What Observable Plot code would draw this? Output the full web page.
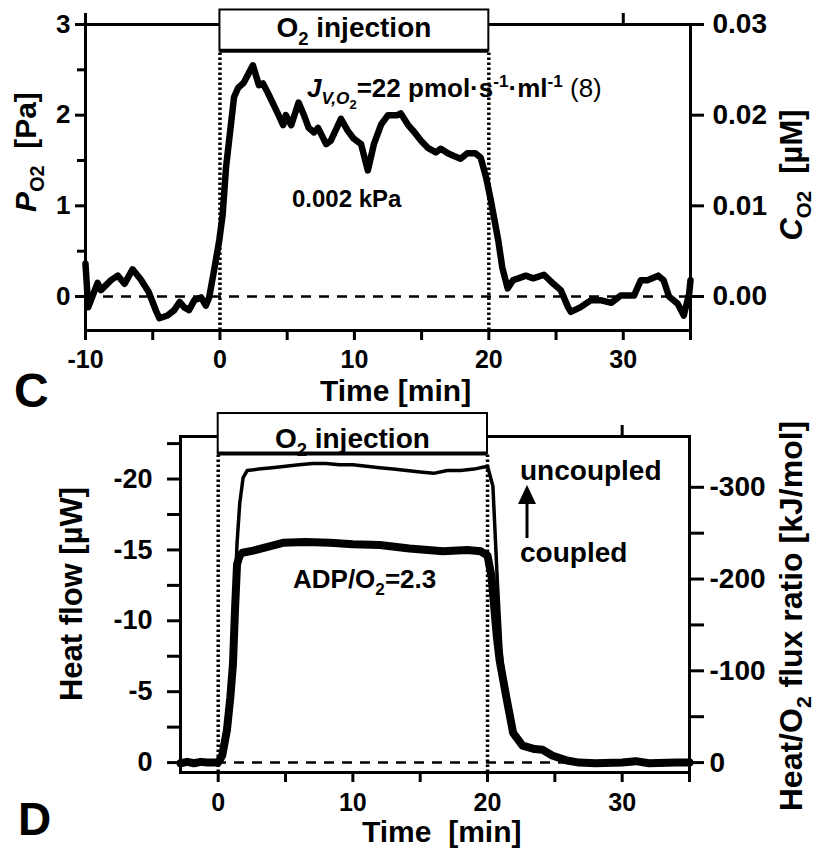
<!DOCTYPE html>
<html><head><meta charset="utf-8">
<script src="https://cdn.jsdelivr.net/npm/d3@7"></script>
<script src="https://cdn.jsdelivr.net/npm/@observablehq/plot@0.6"></script>
<style>
html,body{margin:0;padding:0;background:#fff;}
#wrap{position:relative;width:815px;height:854px;overflow:hidden;}
#wrap svg{position:absolute;left:0;overflow:visible;}
</style></head><body><div id="wrap"></div>
<script>
const FONT = "'Liberation Sans', Arial, Helvetica, sans-serif";
const W = 815;

// ---------- Panel C data: O2 partial pressure ----------
const timeC = [-10, -9.8, -9.1, -8.85, -8.1, -7.6, -7.1, -6.5, -5.9, -5.3, -4.75, -4.5, -3.9, -3.4, -3.0, -2.65, -2.3, -1.9, -1.4, -1.05, -0.8, -0.4, -0.05, 0.2, 0.45, 1.05, 1.35, 1.78, 2.45, 2.9, 3.2, 3.55, 4.3, 4.7, 4.9, 5.3, 5.85, 6.25, 6.6, 7.0, 7.3, 7.9, 8.25, 9.0, 9.5, 9.95, 10.5, 11.0, 11.45, 12.0, 12.5, 13.2, 13.45, 14.0, 14.42, 14.94, 15.46, 16.06, 16.43, 16.95, 17.4, 17.9, 18.4, 19.0, 19.4, 19.8, 20.15, 20.7, 21.0, 21.4, 21.8, 22.2, 22.75, 23.3, 24.1, 24.8, 25.35, 25.9, 26.1, 26.8, 27.6, 28.3, 29.1, 29.8, 30.8, 31.3, 31.8, 32.6, 33.0, 33.4, 34.05, 34.5, 34.9, 35.0];
const po2C = [0.36, -0.12, 0.15, 0.07, 0.18, 0.23, 0.14, 0.30, 0.19, 0.05, -0.16, -0.24, -0.21, -0.15, -0.06, -0.12, -0.15, -0.04, -0.01, -0.10, -0.01, 0.32, 0.62, 0.90, 1.42, 2.20, 2.30, 2.36, 2.55, 2.33, 2.35, 2.25, 2.02, 1.89, 2.00, 1.89, 2.14, 2.00, 1.86, 1.81, 1.86, 1.68, 1.72, 1.96, 1.83, 1.74, 1.68, 1.39, 1.68, 1.90, 2.00, 2.00, 2.02, 1.89, 1.82, 1.72, 1.64, 1.59, 1.63, 1.58, 1.55, 1.52, 1.58, 1.58, 1.53, 1.31, 1.06, 0.62, 0.32, 0.09, 0.18, 0.20, 0.23, 0.20, 0.24, 0.14, 0.07, -0.12, -0.17, -0.12, -0.04, -0.04, -0.07, 0.01, 0.01, 0.18, 0.18, 0.23, 0.18, 0.00, -0.08, -0.21, 0.03, 0.18];
const po2Ticks = [0, 1, 2, 3];
const po2Minor = [0.5, 1.5, 2.5];
const timeTicksC = [-10, 0, 10, 20, 30];
const timeMinorC = [-5, 5, 15, 25, 35];
const topTicksC = [-10, 10, 30];
const uMPerPa = 0.01;          // C_O2 [µM] per P_O2 [Pa]

// ---------- Panel D data: heat flow ----------
const timeCoupled = [-2.8, -2.3, -1.8, -1.3, -0.8, -0.3, 0, 0.3, 0.65, 0.9, 1.1, 1.25, 1.4, 1.6, 1.8, 2.6, 3.6, 4.8, 6.5, 8.3, 10, 12, 14.2, 16.7, 18.5, 19.5, 20.0, 20.3, 20.7, 20.9, 21.4, 21.9, 22.6, 23.5, 24.1, 24.8, 25.9, 26.8, 28, 30, 31, 32, 34, 35];
const heatCoupled = [0.05, -0.05, 0.05, -0.05, 0.0, 0.0, 0.0, -0.5, -2.3, -4.6, -7.0, -10.8, -14.0, -14.6, -14.8, -14.95, -15.2, -15.5, -15.55, -15.5, -15.4, -15.35, -15.1, -14.9, -15.0, -14.9, -14.6, -13.1, -8.8, -7.2, -4.6, -2.1, -1.2, -0.95, -0.9, -0.5, -0.15, 0.0, 0.05, 0.0, -0.1, 0.05, 0.0, 0.0];
const timeUncoupled = [-2.8, -1, 0, 0.3, 0.65, 0.9, 1.1, 1.25, 1.4, 1.6, 1.85, 2.15, 3, 4, 5, 6, 7, 8, 9, 10, 11, 12, 13, 14, 15, 16, 17, 18, 19, 20, 20.4, 20.75, 21.0, 21.3, 21.7, 22.2, 23, 24, 25, 26, 27, 35];
const heatUncoupled = [0, 0, 0, -0.5, -2.5, -5, -8, -12, -15.5, -18.3, -20.1, -20.6, -20.7, -20.8, -20.9, -21.0, -21.1, -21.1, -21.0, -21.0, -20.9, -20.8, -20.7, -20.6, -20.5, -20.4, -20.6, -20.6, -20.7, -20.9, -19.5, -12.4, -8.0, -5.0, -2.6, -1.5, -1.0, -0.8, -0.4, -0.1, 0, 0];
const heatTicks = [-20, -15, -10, -5, 0];
const heatMinor = [-22.5, -17.5, -12.5, -7.5, -2.5];
const ratioTicks = [0, -100, -200, -300];
const ratioMinor = [-50, -150, -250];
const kJPerUW = 15.45;         // Heat/O2 flux ratio [kJ/mol] per heat flow [µW]
const timeTicksD = [0, 10, 20, 30];
const timeMinorD = [5, 15, 25, 35];
const topTicksD = [10, 30];

const injection = [{start: 0, end: 20}];

const ax = (fn, o) => fn({label: null, strokeWidth: 3, fontWeight: "bold", ...o});
const baseStyle = {fontFamily: FONT, fontWeight: "bold", background: "none", overflow: "visible", color: "black"};

// ---------- Panel C ----------
const plotC = Plot.plot({
  width: W, height: 420,
  marginLeft: 85, marginRight: 125, marginTop: 24, marginBottom: 90,
  style: baseStyle,
  x: {domain: [-10, 35]},
  y: {domain: [-0.375, 3]},
  marks: [
    Plot.ruleY([0], {x1: -10, x2: 35, stroke: "black", strokeWidth: 2.5, strokeDasharray: "10,8"}),
    Plot.ruleX([0, 20], {y1: -0.375, y2: 2.71, stroke: "black", strokeWidth: 3.5, strokeDasharray: "2.5,2.5"}),
    Plot.line(po2C, {x: timeC, y: po2C, stroke: "black", strokeWidth: 6.5, strokeLinejoin: "round", strokeLinecap: "round"}),
    Plot.frame({stroke: "black", strokeWidth: 3}),
    ax(Plot.axisY, {anchor: "left", ticks: po2Ticks, tickSize: 10, tickPadding: 5, fontSize: 26, tickFormat: d => String(d)}),
    ax(Plot.axisY, {anchor: "left", ticks: po2Minor, tickSize: 8, tickFormat: () => ""}),
    ax(Plot.axisY, {anchor: "right", ticks: po2Ticks, tickSize: 13, tickPadding: 9, fontSize: 28, tickFormat: d => (d * uMPerPa).toFixed(2)}),
    ax(Plot.axisX, {anchor: "bottom", ticks: timeTicksC, tickSize: 10, tickPadding: 10, fontSize: 25, tickFormat: d => String(d)}),
    ax(Plot.axisX, {anchor: "bottom", ticks: timeMinorC, tickSize: 10, tickFormat: () => ""}),
    ax(Plot.axisX, {anchor: "top", ticks: topTicksC, tickSize: 12, tickFormat: () => ""}),
    Plot.rect(injection, {x1: "start", x2: "end", y1: 2.71, y2: 3.16, fill: "white", stroke: "black", strokeWidth: 2}),
    Plot.ruleY([2.71], {x1: 0, x2: 20, stroke: "black", strokeWidth: 4})
  ]
});

// ---------- Panel D ----------
const plotD = Plot.plot({
  width: W, height: 454,
  marginLeft: 180, marginRight: 126, marginTop: 36, marginBottom: 82,
  style: baseStyle,
  x: {domain: [-2.8, 35]},
  y: {domain: [0.7, -23]},
  marks: [
    Plot.ruleY([0], {x1: -2.8, x2: 35, stroke: "black", strokeWidth: 2.5, strokeDasharray: "10,8"}),
    Plot.ruleX([0, 20], {y1: 0.7, y2: -21.8, stroke: "black", strokeWidth: 3.5, strokeDasharray: "2.5,2.5"}),
    Plot.line(heatUncoupled, {x: timeUncoupled, y: heatUncoupled, stroke: "black", strokeWidth: 3.5, strokeLinejoin: "round"}),
    Plot.line(heatCoupled, {x: timeCoupled, y: heatCoupled, stroke: "black", strokeWidth: 8, strokeLinejoin: "round", strokeLinecap: "round"}),
    Plot.frame({stroke: "black", strokeWidth: 3}),
    ax(Plot.axisY, {anchor: "left", ticks: heatTicks, tickSize: 13, tickPadding: 15, fontSize: 27, tickFormat: d => String(d)}),
    ax(Plot.axisY, {anchor: "left", ticks: heatMinor, tickSize: 13, tickFormat: () => ""}),
    ax(Plot.axisY, {anchor: "right", ticks: ratioTicks.map(v => v / kJPerUW), tickSize: 14, tickPadding: 6, fontSize: 28, tickFormat: d => String(Math.round(d * kJPerUW / 100) * 100)}),
    ax(Plot.axisY, {anchor: "right", ticks: ratioMinor.map(v => v / kJPerUW), tickSize: 14, tickFormat: () => ""}),
    ax(Plot.axisX, {anchor: "bottom", ticks: timeTicksD, tickSize: 10, tickPadding: 11, fontSize: 25, tickFormat: d => String(d)}),
    ax(Plot.axisX, {anchor: "bottom", ticks: timeMinorD, tickSize: 10, tickFormat: () => ""}),
    ax(Plot.axisX, {anchor: "top", ticks: topTicksD, tickSize: 12, tickFormat: () => ""}),
    Plot.rect(injection, {x1: "start", x2: "end", y1: -21.8, y2: -24.62, fill: "white", stroke: "black", strokeWidth: 2}),
    Plot.ruleY([-21.8], {x1: 0, x2: 20, stroke: "black", strokeWidth: 4})
  ]
});

const wrap = document.getElementById("wrap");
plotC.style.top = "0px";
plotD.style.top = "400px";
wrap.appendChild(plotC);
wrap.appendChild(plotD);

// ---------- rich text helper ----------
function rich(svg, x, y, parts, opts = {}) {
  const size = opts.size || 26;
  const t = d3.select(svg).append("text")
    .attr("x", x).attr("y", y)
    .attr("font-family", FONT).attr("font-size", size)
    .attr("font-weight", opts.weight || "bold")
    .attr("text-anchor", opts.anchor || "start")
    .attr("fill", "black");
  if (opts.rotate) t.attr("transform", `rotate(${opts.rotate},${x},${y})`);
  let shift = 0;
  for (const p of parts) {
    const s = typeof p === "string" ? {t: p} : p;
    let target = 0;
    if (s.sub) target = size * 0.28;
    if (s.subsub) target = size * 0.45;
    if (s.sup) target = -size * 0.38;
    const ts = t.append("tspan").text(s.t);
    if (target !== shift) { ts.attr("dy", target - shift); shift = target; }
    if (s.sub || s.sup) ts.attr("font-size", size * 0.66);
    if (s.subsub) ts.attr("font-size", size * 0.5);
    if (s.italic) ts.attr("font-style", "italic");
    if (s.weight) ts.attr("font-weight", s.weight);
  }
  return t;
}

// ---------- Panel C annotations ----------
const sxC = plotC.scale("x");
rich(plotC, sxC.apply(10), 37, ["O", {t: "2", sub: true}, " injection"], {size: 28, anchor: "middle"});
rich(plotC, 307, 97, [{t: "J", italic: true}, {t: "V,O", sub: true, italic: true}, {t: "2", subsub: true}, {t: "=22 pmol·s"}, {t: "-1", sup: true}, "·ml", {t: "-1", sup: true}, {t: " (8)", weight: "normal"}], {size: 26});
rich(plotC, 292, 207, ["0.002 kPa"], {size: 24});
rich(plotC, 320, 401, ["Time [min]"], {size: 30});
rich(plotC, 14, 407, ["C"], {size: 48});
rich(plotC, 36, 152, [{t: "P", italic: true}, {t: "O2", sub: true}, "  [Pa]"], {size: 30, anchor: "middle", rotate: -90});
rich(plotC, 802, 175, [{t: "C", italic: true}, {t: "O2", sub: true}, "  [µM]"], {size: 31, anchor: "middle", rotate: -90});

// ---------- Panel D annotations ----------
const sxD = plotD.scale("x");
rich(plotD, sxD.apply(10), 48, ["O", {t: "2", sub: true}, " injection"], {size: 28, anchor: "middle"});
rich(plotD, 293, 188, ["ADP/O", {t: "2", sub: true}, "=2.3"], {size: 26});
rich(plotD, 520, 80, ["uncoupled"], {size: 28});
rich(plotD, 520, 162, ["coupled"], {size: 28});
rich(plotD, 362, 442, ["Time  [min]"], {size: 30});
rich(plotD, 18, 435, ["D"], {size: 46});
rich(plotD, 82, 194, ["Heat flow [µW]"], {size: 31, anchor: "middle", rotate: -90});
rich(plotD, 802, 216, ["Heat/O", {t: "2", sub: true}, " flux ratio [kJ/mol]"], {size: 32, anchor: "middle", rotate: -90});
// arrow from "coupled" up to "uncoupled"
const gD = d3.select(plotD);
gD.append("line").attr("x1", 527).attr("x2", 527).attr("y1", 138).attr("y2", 98).attr("stroke", "black").attr("stroke-width", 3);
gD.append("path").attr("d", "M527,85 L518,104 L536,104 Z").attr("fill", "black");
</script></body></html>
